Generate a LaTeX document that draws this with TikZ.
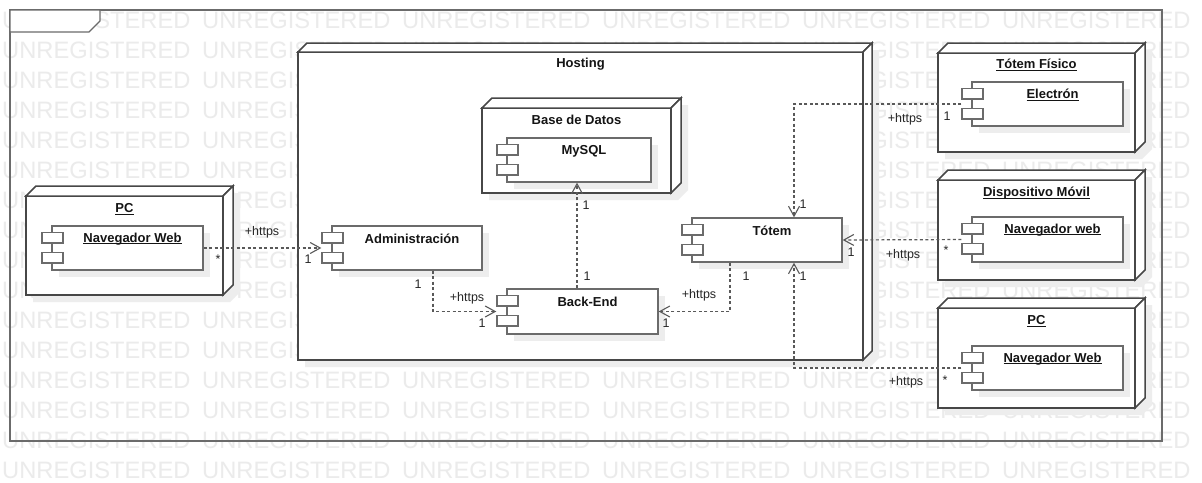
\documentclass[tikz,border=0pt]{standalone}
\usepackage{fontspec}
\setmainfont{Liberation Sans}
\usetikzlibrary{arrows.meta,calc}

\newcommand\ulx[1]{\setbox0\hbox{#1}\rlap{\rule[-2pt]{\wd0}{0.9pt}}\box0}

\tikzset{
  wm/.style={anchor=west,inner sep=0pt,text=black!8,font=\fontsize{23.7}{24}\selectfont},
  shadowc/.style={fill=black!7},
  nodeface/.style={draw=black!72,line width=1.5pt,fill=white,line join=miter},
  compbox/.style={draw=black!58,line width=1.4pt,fill=white,inner sep=0pt},
  portbox/.style={draw=black!58,line width=1.4pt,fill=white},
  nametext/.style={inner sep=0pt,font=\fontsize{13}{15}\selectfont\bfseries,text=black!92},
  lbl/.style={inner sep=0pt,font=\fontsize{12.5}{14}\selectfont,text=black!85},
  dep/.style={draw=black!65,line width=1.2pt,dash pattern=on 3pt off 2.5pt,
     -{Straight Barb[length=10pt,width=11pt,line width=1.1pt]}},
  frame/.style={draw=black!58,line width=1.3pt}
}

% component: name, x1, y1, x2, y2, label
\newcommand\comp[6]{%
  \fill[shadowc] (#2+7,#3+7) rectangle (#4+7,#5+7);
  \node[compbox,minimum width={#4-#2},minimum height={#5-#3}] (#1) at ({(#2+#4)/2},{(#3+#5)/2}) {};
  \draw[portbox] (#2-10,#3+6.5) rectangle (#2+11,#3+17);
  \draw[portbox] (#2-10,#3+26.5) rectangle (#2+11,#3+37);
  \node[nametext] (#1-name) at ({(#2+#4)/2+5},#3+13) {#6};
}
% deployment node: name, x1, y1, x2, y2, depth
\newcommand\dnode[6]{%
  \fill[shadowc] (#2+7,#3+7) -- (#2+#6+7,#3-#6+7) -- (#4+#6+7,#3-#6+7) -- (#4+#6+7,#5-#6+7) -- (#4+7,#5+7) -- (#2+7,#5+7) -- cycle;
  \filldraw[nodeface] (#2,#3) rectangle (#4,#5);
  \filldraw[nodeface] (#2,#3) -- (#2+#6,#3-#6) -- (#4+#6,#3-#6) -- (#4,#3) -- cycle;
  \filldraw[nodeface] (#4,#3) -- (#4+#6,#3-#6) -- (#4+#6,#5-#6) -- (#4,#5) -- cycle;
  \node[inner sep=0pt,minimum width={#4-#2},minimum height={#5-#3}] (#1) at ({(#2+#4)/2},{(#3+#5)/2}) {};
}

\begin{document}
\begin{tikzpicture}[x=1pt,y=-1pt]
\useasboundingbox (0,0) rectangle (1202,482);
\fill[white] (0,0) rectangle (1202,482);

% watermark
\foreach \r in {0,...,15}
  \foreach \c in {0,...,5}
    \node[wm] (wm-\r-\c) at (2+200*\c, 20+30*\r) {UNREGISTERED};

% outer frame
\draw[frame] (10,10) rectangle (1162,441);
\filldraw[frame,fill=white] (10,10) -- (100,10) -- (100,21) -- (89,32) -- (10,32) -- cycle;

% Hosting
\dnode{hosting}{298}{52}{863}{360}{9}
\node[nametext] (hosting-name) at (580.5,64) {Hosting};

% Base de Datos
\dnode{bd}{482}{108}{671}{193}{10}
\node[nametext] (bd-name) at (576.5,120) {Base de Datos};
\comp{mysql}{507}{138}{651}{182}{MySQL}

% components inside hosting
\comp{admin}{332}{226}{482}{270}{Administración}
\comp{backend}{507}{289}{658}{334}{Back-End}
\comp{totem}{692}{218}{842}{262}{Tótem}

% PC left
\dnode{pcL}{26}{196}{223}{295}{10}
\node[nametext] (pcL-name) at (124.5,209) {\ulx{PC}};
\comp{navL}{52}{226}{203}{270}{\ulx{Navegador Web}}

% Tótem Físico
\dnode{totemF}{938}{53}{1135}{152}{10}
\node[nametext] (totemF-name) at (1036.5,65) {\ulx{Tótem Físico}};
\comp{electron}{972}{82}{1123}{126}{\ulx{Electrón}}

% Dispositivo Móvil
\dnode{dispM}{938}{180}{1135}{280}{10}
\node[nametext] (dispM-name) at (1036.5,193) {\ulx{Dispositivo Móvil}};
\comp{navM}{972}{217}{1123}{262}{\ulx{Navegador web}}

% PC right
\dnode{pcR}{938}{308}{1135}{408}{10}
\node[nametext] (pcR-name) at (1036.5,321) {\ulx{PC}};
\comp{navR}{972}{346}{1123}{390}{\ulx{Navegador Web}}

% connectors
\draw[dep,shorten >=10pt] (navL.east) -- (admin.west);
\node[lbl] (l1a) at (262,232) {+https};
\node[lbl] (l1b) at (218,259) {*};
\node[lbl] (l1c) at (308,259) {1};

\draw[dep,shorten >=10pt] ($(admin.south)+(26,0)$) |- (backend.west);
\node[lbl] (l2a) at (418,284) {1};
\node[lbl] (l2b) at (467,298) {+https};
\node[lbl] (l2c) at (482,323) {1};

\draw[dep] ($(backend.north)+(-5.5,0)$) -- ($(mysql.south)+(-2,0)$);
\node[lbl] (l3a) at (587,276) {1};
\node[lbl] (l3b) at (586,205) {1};

\draw[dep] ($(totem.south)+(-37,0)$) |- (backend.east);
\node[lbl] (l4a) at (746,276) {1};
\node[lbl] (l4b) at (699,295) {+https};
\node[lbl] (l4c) at (666,323) {1};

\draw[dep,shorten <=10pt] (electron.west) -| ($(totem.north)+(27,0)$);
\node[lbl] (l5a) at (905,119) {+https};
\node[lbl] (l5b) at (947,116) {1};
\node[lbl] (l5c) at (803,204) {1};

\draw[dep,shorten <=10pt] (navM.west) -- (totem.east);
\node[lbl] (l6a) at (903,255) {+https};
\node[lbl] (l6b) at (946,250) {*};
\node[lbl] (l6c) at (851,252) {1};

\draw[dep,shorten <=10pt] (navR.west) -| ($(totem.south)+(27,0)$);
\node[lbl] (l7a) at (906,382) {+https};
\node[lbl] (l7b) at (945,380) {*};
\node[lbl] (l7c) at (803,276) {1};
\end{tikzpicture}
\end{document}
